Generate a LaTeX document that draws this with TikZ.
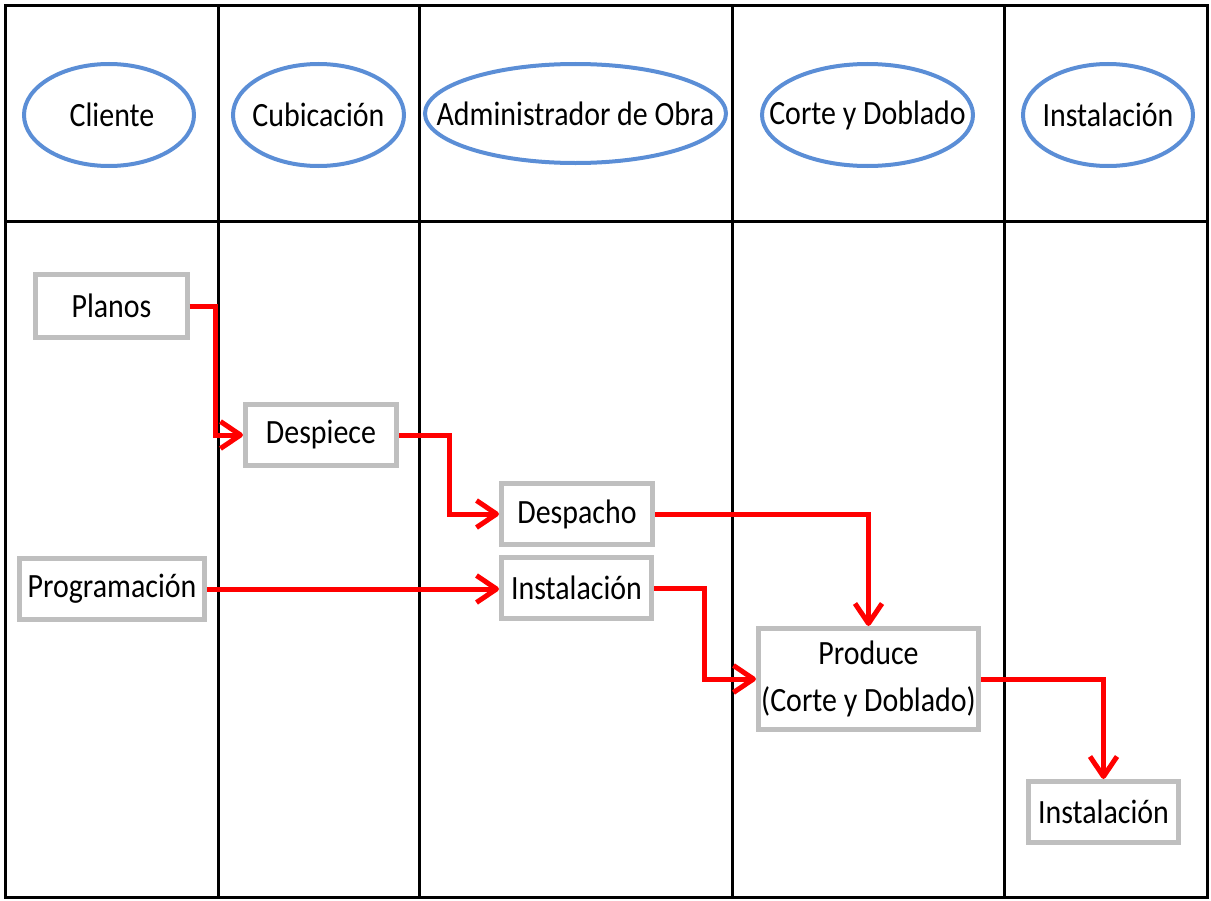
\documentclass[tikz,border=0pt]{standalone}
\usepackage{fontspec}
\setmainfont{Carlito}[FakeStretch=0.88]
\usetikzlibrary{arrows.meta,shapes.geometric}
\definecolor{lanecol}{RGB}{91,142,214}
\definecolor{boxgray}{RGB}{191,191,191}
\definecolor{flowred}{RGB}{255,0,0}
% zero-width label so the ellipse keeps its own size
\newcommand\lanelabel[1]{\makebox[0pt]{#1}}

\begin{document}
\begin{tikzpicture}[x=1bp,y=-1bp,
  every node/.style={font=\fontsize{34bp}{47bp}\selectfont, text=black},
  role/.style={draw=lanecol, line width=4bp, ellipse, inner sep=0pt},
  task/.style={draw=boxgray, line width=5bp, inner sep=0pt, align=center},
  grid/.style={draw=black, line width=3bp},
  flow/.style={draw=flowred, line width=5bp, line join=miter,
    -{Straight Barb[length=20bp,width=27bp,line join=round]}}
]
\useasboundingbox (0,0) rectangle (1211,901);

% swimlane table
\draw[grid] (5,5) rectangle (1207,897);
\draw[grid] (5,221) -- (1207,221);
\foreach \x in {218,419,732,1004}
  \draw[grid] (\x,5) -- (\x,897);

% lane headers
\node[role, minimum width=170bp, minimum height=102bp] (hcli) at (109,115) {\lanelabel{\hspace{6bp}Cliente}};
\node[role, minimum width=171bp, minimum height=102bp] (hcub) at (318.5,115) {\lanelabel{Cubicación}};
\node[role, minimum width=301bp, minimum height=99bp] (hadm) at (575.5,113.5) {\lanelabel{Administrador de Obra}};
\node[role, minimum width=211bp, minimum height=102bp] (hcor) at (867.5,115) {\lanelabel{Corte y Doblado}};
\node[role, minimum width=170bp, minimum height=102bp] (hins) at (1108,115) {\lanelabel{Instalación}};

% tasks
\node[task, minimum width=151bp, minimum height=63bp] (planos) at (111.5,306) {Planos};
\node[task, minimum width=151bp, minimum height=61bp] (despiece) at (321,435) {Despiece};
\node[task, minimum width=151bp, minimum height=61bp] (despacho) at (577,514) {Despacho};
\node[task, minimum width=185bp, minimum height=61bp] (prog) at (112,589) {Programación};
\node[task, minimum width=150bp, minimum height=61bp] (instA) at (576.5,588) {Instalación};
\node[task, minimum width=220bp, minimum height=101bp] (produce) at (868.5,679) {Produce\\(Corte y Doblado)};
\node[task, minimum width=150bp, minimum height=61bp] (instB) at (1103.5,812) {Instalación};

% flow connectors
\draw[flow] (planos.east) -- ++(26,0) |- (despiece.west);
\draw[flow] (despiece.east) -- ++(50,0) |- (despacho.west);
\draw[flow] (despacho.east) -| (produce.north);
\draw[flow] (prog.east) -- (prog.east -| instA.west);
\draw[flow] (instA.east) -- ++(50,0) |- (produce.west);
\draw[flow] (produce.east) -| (instB.north);
\end{tikzpicture}
\end{document}
